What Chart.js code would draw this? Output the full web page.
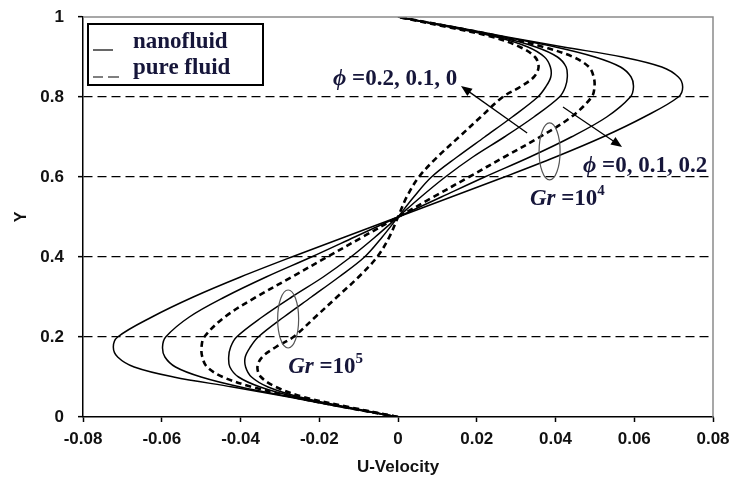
<!DOCTYPE html>
<html>
<head>
<meta charset="utf-8">
<script src="https://cdn.jsdelivr.net/npm/chart.js@4/dist/chart.umd.min.js"></script>
<style>
  html, body { margin: 0; padding: 0; background: #fff; }
</style>
</head>
<body>
<canvas id="chart" width="734" height="492"></canvas>
<script>
'use strict';

// wall-normal position Y (shared by every profile)
const yPos = [0, 0.025, 0.05, 0.075, 0.1, 0.125, 0.15, 0.175, 0.2, 0.25, 0.3, 0.35, 0.4, 0.45, 0.5,
  0.55, 0.6, 0.65, 0.7, 0.75, 0.8, 0.825, 0.85, 0.875, 0.9, 0.925, 0.95, 0.975, 1];

// U-velocity, Gr = 10^5
const gr5Phi02 = [0, -0.0145, -0.0277, -0.042, -0.057, -0.067, -0.0712, -0.0723, -0.0712, -0.0625, -0.052, -0.040, -0.027, -0.0135, 0,
  0.0135, 0.027, 0.040, 0.052, 0.0625, 0.0712, 0.0723, 0.0712, 0.067, 0.057, 0.042, 0.0277, 0.0145, 0];
const gr5Phi01 = [0, -0.014, -0.027, -0.040, -0.050, -0.0565, -0.0592, -0.0598, -0.059, -0.053, -0.044, -0.0335, -0.022, -0.011, 0,
  0.011, 0.022, 0.0335, 0.044, 0.053, 0.059, 0.0598, 0.0592, 0.0565, 0.050, 0.040, 0.027, 0.014, 0];
const gr5Pure = [0, -0.0138, -0.0265, -0.037, -0.0445, -0.0485, -0.0497, -0.0499, -0.0492, -0.044, -0.036, -0.027, -0.018, -0.009, 0,
  0.009, 0.018, 0.027, 0.036, 0.044, 0.0492, 0.0499, 0.0497, 0.0485, 0.0445, 0.037, 0.0265, 0.0138, 0];

// U-velocity, Gr = 10^4
const gr4Phi02 = [0, -0.0135, -0.026, -0.035, -0.0405, -0.0427, -0.043, -0.0425, -0.041, -0.0345, -0.027, -0.019, -0.012, -0.0058, 0,
  0.0058, 0.012, 0.019, 0.027, 0.0345, 0.041, 0.0425, 0.043, 0.0427, 0.0405, 0.035, 0.026, 0.0135, 0];
const gr4Phi01 = [0, -0.013, -0.025, -0.033, -0.0372, -0.0387, -0.0388, -0.0375, -0.0355, -0.029, -0.022, -0.015, -0.0085, -0.004, 0,
  0.004, 0.0085, 0.015, 0.022, 0.029, 0.0355, 0.0375, 0.0388, 0.0387, 0.0372, 0.033, 0.025, 0.013, 0];
const gr4Pure = [0, -0.0125, -0.024, -0.031, -0.0348, -0.0357, -0.0345, -0.031, -0.0266, -0.021, -0.0155, -0.010, -0.0053, -0.0022, 0,
  0.0022, 0.0053, 0.010, 0.0155, 0.021, 0.0266, 0.031, 0.0345, 0.0357, 0.0348, 0.031, 0.024, 0.0125, 0];

const xTickValues = [-0.08, -0.06, -0.04, -0.02, 0, 0.02, 0.04, 0.06, 0.08];
const xTickLabels = ['-0.08', '-0.06', '-0.04', '-0.02', '0', '0.02', '0.04', '0.06', '0.08'];
const yTickValues = [0, 0.2, 0.4, 0.6, 0.8, 1];
const yTickLabels = ['0', '0.2', '0.4', '0.6', '0.8', '1'];

const legendLabels = ['nanofluid', 'pure fluid'];

const SANS = '"Liberation Sans", Arial, sans-serif';
const SERIF = '"Liberation Serif", "Times New Roman", serif';
const INK = '#16163a';

function profile(u) {
  return u.map((v, i) => ({ x: v, y: yPos[i] }));
}

function curve(label, u, dashed) {
  return {
    label,
    data: profile(u),
    borderColor: '#000',
    borderWidth: dashed ? 2.6 : 1.5,
    borderDash: dashed ? [6, 4] : [],
    pointRadius: 0,
    fill: false,
    tension: 0.35,
  };
}

// draw a run of text pieces (for italics and superscripts)
function textRun(ctx, parts, x0, y0) {
  let cx = x0;
  parts.forEach(p => {
    ctx.font = p.font;
    ctx.fillText(p.t, cx, y0 + (p.sup ? -10 : 0));
    cx += ctx.measureText(p.t).width;
  });
}

function arrow(ctx, x1, y1, x2, y2) {
  const ang = Math.atan2(y2 - y1, x2 - x1);
  const len = 11, half = 4.5;
  ctx.beginPath();
  ctx.moveTo(x1, y1);
  ctx.lineTo(x2 - Math.cos(ang) * len * 0.8, y2 - Math.sin(ang) * len * 0.8);
  ctx.stroke();
  ctx.beginPath();
  ctx.moveTo(x2, y2);
  ctx.lineTo(x2 - Math.cos(ang) * len + Math.sin(ang) * half, y2 - Math.sin(ang) * len - Math.cos(ang) * half);
  ctx.lineTo(x2 - Math.cos(ang) * len - Math.sin(ang) * half, y2 - Math.sin(ang) * len + Math.cos(ang) * half);
  ctx.closePath();
  ctx.fill();
}

const notes = {
  id: 'notes',
  afterDatasetsDraw(chart) {
    const { ctx, chartArea: a, scales: { x, y } } = chart;
    const px = v => x.getPixelForValue(v);
    const py = v => y.getPixelForValue(v);
    ctx.save();

    // grey frame on top and right
    ctx.strokeStyle = '#8a8a8a';
    ctx.lineWidth = 1.5;
    ctx.beginPath();
    ctx.moveTo(a.left, a.top);
    ctx.lineTo(a.right, a.top);
    ctx.lineTo(a.right, a.bottom);
    ctx.stroke();

    // legend box
    const lx = a.left + 5, ly = a.top + 7, lw = 175, lh = 61;
    ctx.fillStyle = '#fff';
    ctx.fillRect(lx, ly, lw, lh);
    ctx.strokeStyle = '#000';
    ctx.lineWidth = 2;
    ctx.strokeRect(lx, ly, lw, lh);
    ctx.lineWidth = 1.2;
    ctx.beginPath();
    ctx.moveTo(lx + 5, ly + 26);
    ctx.lineTo(lx + 25, ly + 26);
    ctx.stroke();
    ctx.beginPath();
    ctx.moveTo(lx + 5, ly + 53);
    ctx.lineTo(lx + 15, ly + 53);
    ctx.moveTo(lx + 20, ly + 53);
    ctx.lineTo(lx + 31, ly + 53);
    ctx.stroke();
    ctx.fillStyle = INK;
    ctx.textBaseline = 'alphabetic';
    ctx.textAlign = 'left';
    ctx.font = 'bold 23px ' + SERIF;
    ctx.fillText(legendLabels[0], lx + 45, ly + 24);
    ctx.fillText(legendLabels[1], lx + 45, ly + 50);

    // ellipses
    ctx.strokeStyle = '#555';
    ctx.lineWidth = 1.2;
    ctx.beginPath();
    ctx.ellipse(px(0.0385), py(0.664), 10.5, 28.5, 0, 0, Math.PI * 2);
    ctx.stroke();
    ctx.beginPath();
    ctx.ellipse(px(-0.0279), py(0.245), 10.5, 29, 0, 0, Math.PI * 2);
    ctx.stroke();

    // arrows
    ctx.strokeStyle = '#000';
    ctx.fillStyle = '#000';
    ctx.lineWidth = 1.3;
    arrow(ctx, px(0.0328), py(0.71), px(0.016), py(0.8275));
    arrow(ctx, px(0.0419), py(0.775), px(0.0569), py(0.675));

    // labels
    ctx.fillStyle = INK;
    const b = 'bold 23px ' + SERIF;
    const it = 'italic bold 23px ' + SERIF;
    const sup = 'bold 15px ' + SERIF;
    textRun(ctx, [{ t: '\u03D5', font: it }, { t: ' =0.2, 0.1, 0', font: b }], px(-0.0165), py(0.83));
    textRun(ctx, [{ t: '\u03D5', font: it }, { t: ' =0, 0.1, 0.2', font: b }], px(0.047), py(0.6125));
    textRun(ctx, [{ t: 'Gr', font: it }, { t: ' =10', font: b }, { t: '4', font: sup, sup: true }], px(0.0335), py(0.53));
    textRun(ctx, [{ t: 'Gr', font: it }, { t: ' =10', font: b }, { t: '5', font: sup, sup: true }], px(-0.0279), py(0.11));

    ctx.restore();
  },
};

const tickFont = { family: SANS, size: 17, weight: 'bold' };

new Chart(document.getElementById('chart').getContext('2d'), {
  type: 'line',
  data: {
    datasets: [
      curve('Gr=1e5, phi=0.2', gr5Phi02, false),
      curve('Gr=1e5, phi=0.1', gr5Phi01, false),
      curve('Gr=1e5, pure', gr5Pure, true),
      curve('Gr=1e4, phi=0.2', gr4Phi02, false),
      curve('Gr=1e4, phi=0.1', gr4Phi01, false),
      curve('Gr=1e4, pure', gr4Pure, true),
    ],
  },
  options: {
    indexAxis: 'y',
    responsive: false,
    animation: false,
    layout: { padding: { top: 17, right: 21, left: 0, bottom: 0 } },
    plugins: {
      legend: { display: false },
      tooltip: { enabled: false },
    },
    scales: {
      x: {
        type: 'linear',
        position: 'bottom',
        min: -0.08,
        max: 0.08,
        afterFit: s => { s.height = 75; s.paddingLeft = 0; s.paddingRight = 0; },
        afterBuildTicks: s => { s.ticks = xTickValues.map(v => ({ value: v })); },
        ticks: {
          callback: (v, i) => xTickLabels[i],
          font: tickFont,
          color: '#111',
          padding: 7,
          maxRotation: 0,
          autoSkip: false,
        },
        grid: { drawOnChartArea: false, tickLength: 5, tickColor: '#000', tickWidth: 1.5 },
        border: { color: '#000', width: 1.5 },
        title: {
          display: true,
          text: 'U-Velocity',
          font: { family: SANS, size: 17, weight: 'bold' },
          color: '#111',
          padding: { top: 0, bottom: 14 },
        },
      },
      y: {
        type: 'linear',
        position: 'left',
        min: 0,
        max: 1,
        afterFit: s => { s.width = 83; s.paddingTop = 0; s.paddingBottom = 0; },
        afterBuildTicks: s => { s.ticks = yTickValues.map(v => ({ value: v })); },
        ticks: {
          callback: (v, i) => yTickLabels[i],
          font: tickFont,
          color: '#111',
          padding: 14,
          autoSkip: false,
        },
        grid: {
          color: c => (c.tick && (c.tick.value === 0 || c.tick.value === 1)) ? 'rgba(0,0,0,0)' : '#000',
          lineWidth: 1.3,
          tickLength: 5,
          tickColor: '#000',
          tickWidth: 1.5,
          tickBorderDash: [],
        },
        border: { color: '#000', width: 1.5, dash: [9, 5] },
        title: {
          display: true,
          text: 'Y',
          font: { family: SANS, size: 16, weight: 'bold' },
          color: '#111',
          padding: { top: 12, bottom: 0 },
        },
      },
    },
  },
  plugins: [notes],
});
</script>
</body>
</html>
